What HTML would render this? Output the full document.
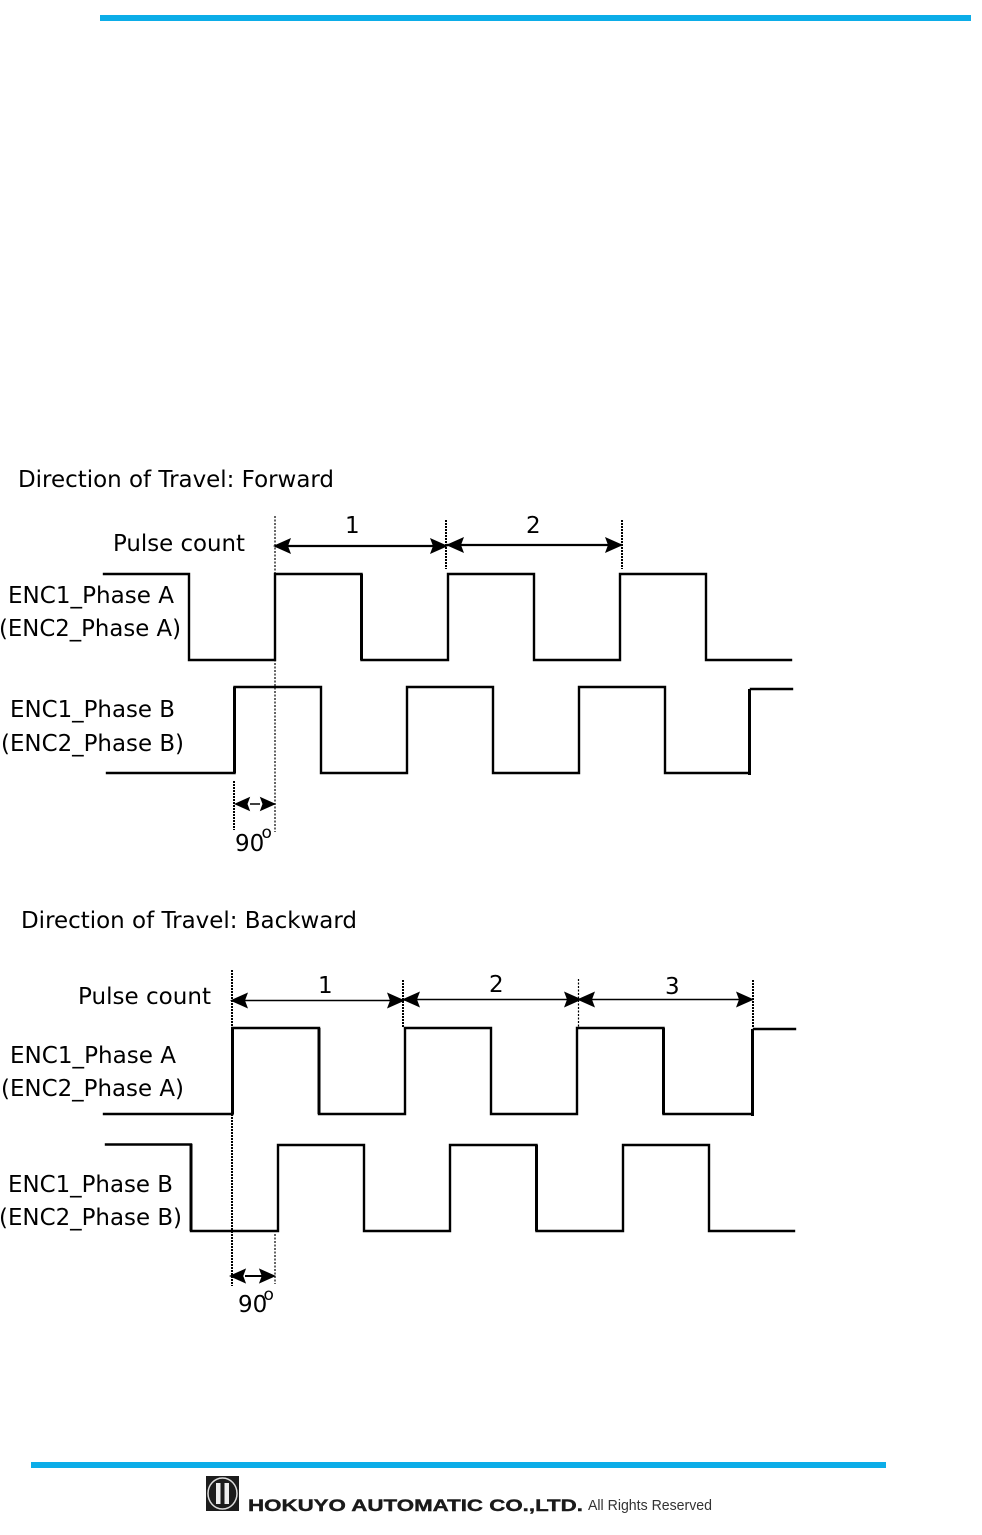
<!DOCTYPE html>
<html><head><meta charset="utf-8"><style>
html,body{margin:0;padding:0;background:#fff}
svg{display:block}
.t{font-family:"DejaVu Sans",sans-serif;font-size:23px;fill:#000}
.s{font-family:"DejaVu Sans",sans-serif;font-size:17px;fill:#000}
</style></head><body>
<svg width="982" height="1535" viewBox="0 0 982 1535" xmlns="http://www.w3.org/2000/svg">
<defs>
<polygon id="ar" points="0,0 -18,-8 -15,0 -18,8" fill="#000"/>
</defs>
<rect x="100" y="15" width="871" height="6" fill="#0cade8"/>
<rect x="31" y="1462" width="855" height="6" fill="#0cade8"/>

<text class="t" x="18" y="487" textLength="316" lengthAdjust="spacingAndGlyphs">Direction of Travel: Forward</text>
<text class="t" x="113" y="551" textLength="132" lengthAdjust="spacingAndGlyphs">Pulse count</text>
<text class="t" x="345" y="533">1</text>
<text class="t" x="526" y="533">2</text>
<text class="t" x="8" y="603" textLength="166" lengthAdjust="spacingAndGlyphs">ENC1_Phase A</text>
<text class="t" x="-1" y="636" textLength="182" lengthAdjust="spacingAndGlyphs">(ENC2_Phase A)</text>
<text class="t" x="10" y="717" textLength="165" lengthAdjust="spacingAndGlyphs">ENC1_Phase B</text>
<text class="t" x="1" y="751" textLength="183" lengthAdjust="spacingAndGlyphs">(ENC2_Phase B)</text>
<text class="t" x="235" y="851">90</text>
<text class="s" x="261.500" y="838">o</text>

<text class="t" x="21" y="928" textLength="336" lengthAdjust="spacingAndGlyphs">Direction of Travel: Backward</text>
<text class="t" x="78" y="1004" textLength="133" lengthAdjust="spacingAndGlyphs">Pulse count</text>
<text class="t" x="318" y="993">1</text>
<text class="t" x="489" y="992">2</text>
<text class="t" x="665" y="994">3</text>
<text class="t" x="10" y="1063" textLength="166" lengthAdjust="spacingAndGlyphs">ENC1_Phase A</text>
<text class="t" x="1" y="1096" textLength="183" lengthAdjust="spacingAndGlyphs">(ENC2_Phase A)</text>
<text class="t" x="8" y="1192" textLength="165" lengthAdjust="spacingAndGlyphs">ENC1_Phase B</text>
<text class="t" x="-1" y="1225" textLength="183" lengthAdjust="spacingAndGlyphs">(ENC2_Phase B)</text>
<text class="t" x="238" y="1312">90</text>
<text class="s" x="263.500" y="1300">o</text>

<g fill="none" stroke="#000" stroke-width="2.400" stroke-linecap="square" stroke-linejoin="miter">
<path d="M104 574H189V660H275V574H361.500V660H448V574H534V660H620V574H706V660H791"/>
<path d="M107 773H234.500V687H321V773H407V687H493V773H579V687H665V773H748"/>
<path d="M751 689H792"/>
<path d="M104 1114H232.500V1028H319V1114H405V1028H491V1114H577V1028H663.500V1114H750"/>
<path d="M754 1029H795"/>
<path d="M106 1144.500H191V1231H278V1145H364V1231H450V1145H536.500V1231H623V1145H709V1231H794"/>
</g>
<g fill="none" stroke="#000" stroke-width="3">
<path d="M749.500 775V689"/>
<path d="M752.500 1116V1029"/>
<path d="M234.500 773V687"/>
<path d="M232.500 1114V1028"/>
<path d="M361.500 660V574"/>
<path d="M319 1114V1028"/>
<path d="M663.500 1114V1028"/>
<path d="M536.500 1231V1145"/>
<path d="M191 1231V1144"/>
</g>

<g fill="none" stroke="#000" stroke-width="1.200" stroke-dasharray="2 1.500">
<path d="M275 516V832"/>
<path d="M578.500 979V1027"/>
<path d="M275 1234V1284"/>
</g>
<g fill="none" stroke="#000" stroke-width="2" stroke-dasharray="2 1">
<path d="M446 520V569"/>
<path d="M622 520V569"/>
<path d="M234 781V830"/>
<path d="M232 970V1286"/>
<path d="M403 980V1028"/>
<path d="M753 980V1028"/>
</g>

<g stroke="#000" fill="none">
<path d="M275 546H446" stroke-width="2.200"/>
<path d="M446 545H622" stroke-width="2.200"/>
<path d="M250 804H260" stroke-width="1.500"/>
<path d="M235 1000.500H403" stroke-width="1.500"/>
<path d="M403 999.500H578" stroke-width="1.500"/>
<path d="M578 999.500H753" stroke-width="1.500"/>
<path d="M245 1276H262" stroke-width="2"/>
</g>

<use href="#ar" transform="translate(273,546) rotate(180)"/>
<use href="#ar" transform="translate(448,546)"/>
<use href="#ar" transform="translate(446,545) rotate(180)"/>
<use href="#ar" transform="translate(623,545)"/>
<use href="#ar" transform="translate(234,804) rotate(180) scale(.9)"/>
<use href="#ar" transform="translate(276,804) scale(.9)"/>
<use href="#ar" transform="translate(230,1000.500) rotate(180)"/>
<use href="#ar" transform="translate(405,1000.500)"/>
<use href="#ar" transform="translate(402,999.500) rotate(180)"/>
<use href="#ar" transform="translate(582,999.500)"/>
<use href="#ar" transform="translate(577,999.500) rotate(180)"/>
<use href="#ar" transform="translate(754,999.500)"/>
<use href="#ar" transform="translate(229,1276) rotate(180) scale(.95)"/>
<use href="#ar" transform="translate(276,1276) scale(.95)"/>

<!-- footer logo -->
<rect x="206" y="1476" width="33" height="35" fill="#1c1c1c"/>
<ellipse cx="222.500" cy="1493.500" rx="14.500" ry="15.500" fill="none" stroke="#ddd" stroke-width="1.500"/>
<rect x="216" y="1483" width="4.500" height="21" fill="#eee"/>
<rect x="224.500" y="1483" width="4.500" height="21" fill="#eee"/>
<text x="248" y="1511" textLength="335" lengthAdjust="spacingAndGlyphs" style="font-family:'Liberation Sans',sans-serif;font-weight:bold;font-size:17px;fill:#1a1a1a;stroke:#1a1a1a;stroke-width:.4">HOKUYO AUTOMATIC CO.,LTD.</text>
<text x="588" y="1510" textLength="124" lengthAdjust="spacingAndGlyphs" style="font-family:'Liberation Sans',sans-serif;font-size:15px;fill:#333">All Rights Reserved</text>
</svg>
</body></html>
